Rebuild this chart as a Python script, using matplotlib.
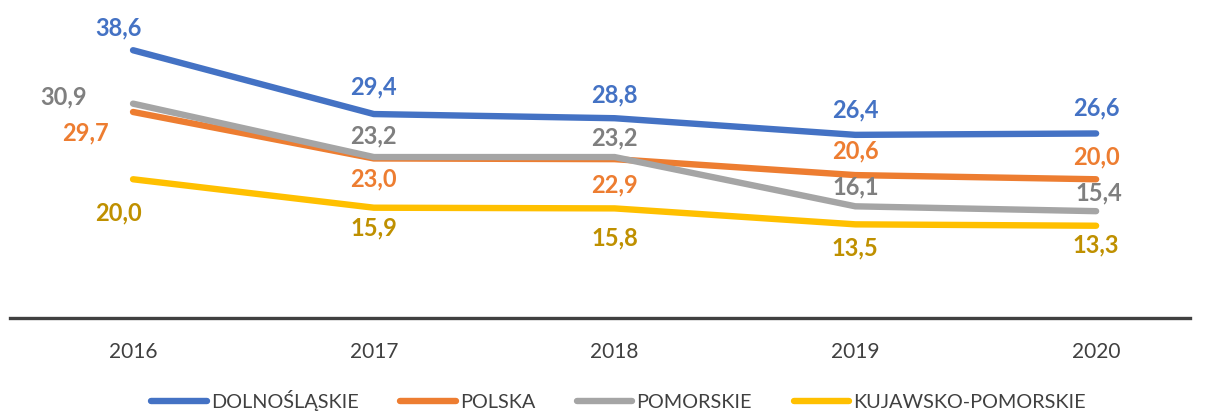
import matplotlib
matplotlib.use("Agg")
import matplotlib.pyplot as plt

plt.rcParams['font.family'] = ['Lato', 'DejaVu Sans']

years = ["2016", "2017", "2018", "2019", "2020"]
series_names = ["DOLNOŚLĄSKIE", "POLSKA", "POMORSKIE", "KUJAWSKO-POMORSKIE"]
dolnoslaskie = [38.6, 29.4, 28.8, 26.4, 26.6]
polska = [29.7, 23.0, 22.9, 20.6, 20.0]
pomorskie = [30.9, 23.2, 23.2, 16.1, 15.4]
kujawsko = [20.0, 15.9, 15.8, 13.5, 13.3]

line_colors = ["#4472C4", "#ED7D31", "#A5A5A5", "#FFC000"]
label_colors = ["#4472C4", "#ED7D31", "#7F7F7F", "#BF9000"]
# label offsets in pixels (dx, dy) relative to each point
offsets = [
    [(-15, 22), (0, 27), (0, 23), (0, 25), (0, 26)],
    [(-48, -21), (0, -20), (0, -26), (0, 24), (0, 22)],
    [(-69, 7), (0, 21), (0, 19), (0, 19), (3, 18)],
    [(-15, -34), (0, -20), (0, -30), (0, -24), (0, -19)],
]

data = [dolnoslaskie, polska, pomorskie, kujawsko]

fig = plt.figure(figsize=(12.05, 4.11), dpi=100)
ax = fig.add_axes([10/1205, 1-318/411, 1180/1205, 308/411])
x = list(range(len(years)))
for vals, name, lc, tc, offs in zip(data, series_names, line_colors, label_colors, offsets):
    ax.plot(x, vals, color=lc, lw=4.6, solid_capstyle='round', solid_joinstyle='round', label=name)
    for xi, v, (dx, dy) in zip(x, vals, offs):
        ax.annotate(f"{v:.1f}".replace('.', ','), (xi, v), xytext=(dx, dy),
                    textcoords='offset pixels', ha='center', va='center',
                    fontsize=17, fontweight='bold', color=tc)

ax.set_xlim(-0.511, 4.39)
ax.set_ylim(0, 44.4)
ax.set_xticks(x)
ax.set_xticklabels(years, fontsize=15, color="#404040")
ax.tick_params(axis='x', length=0, pad=17)
ax.set_yticks([])
for s in ['top', 'left', 'right']:
    ax.spines[s].set_visible(False)
ax.spines['bottom'].set_color("#404040")
ax.spines['bottom'].set_linewidth(2.4)

leg = fig.legend(loc='center', bbox_to_anchor=(0.5 + 16/1205, 1-400/411), ncol=4, frameon=False,
                 fontsize=14.3, handlelength=2.8, handletextpad=0.2, columnspacing=2.1,
                 labelcolor="#404040")

fig.savefig("out.png", dpi=100)
